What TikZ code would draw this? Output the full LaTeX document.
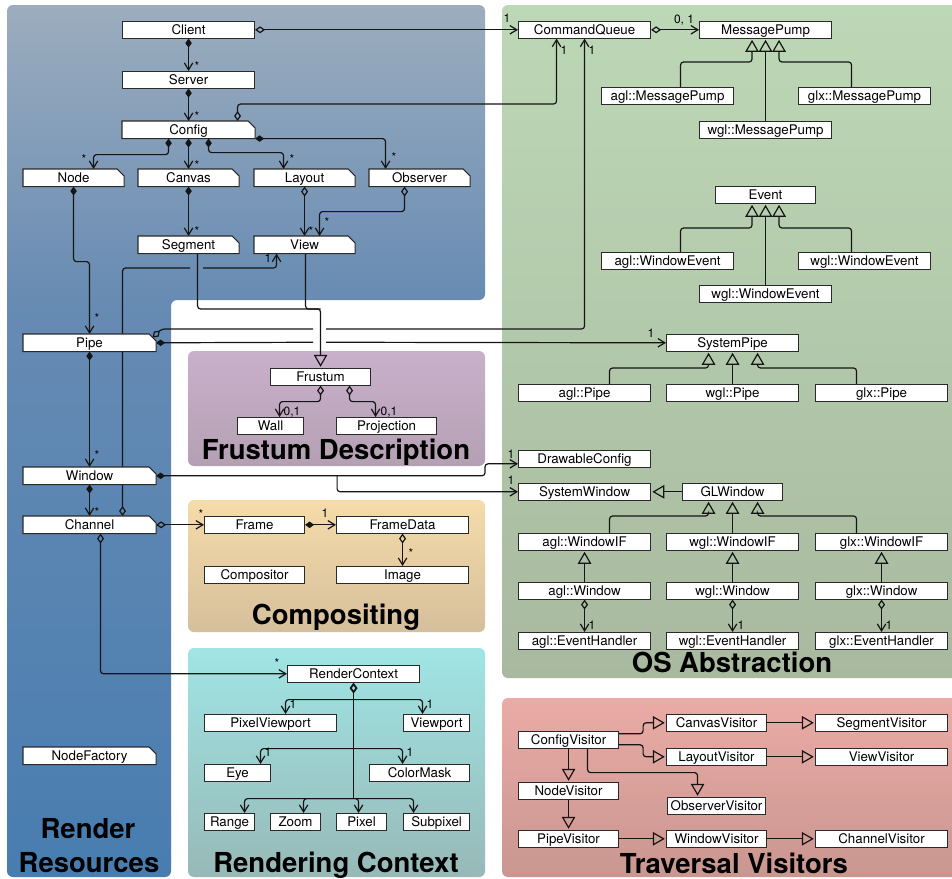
\documentclass[tikz,border=0pt]{standalone}
\usepackage{fontspec}
\setmainfont{TeX Gyre Heros}
\usetikzlibrary{arrows.meta,calc}
\pgfdeclarelayer{bg}
\pgfdeclarelayer{edges}
\pgfdeclarelayer{boxes}
\pgfsetlayers{bg,edges,boxes,main}

\definecolor{linec}{HTML}{151515}
\definecolor{boxc}{HTML}{2A2A2A}
\definecolor{rrtop}{HTML}{9CADBE}
\definecolor{rrmid}{HTML}{678BB3}
\definecolor{rrbot}{HTML}{487DB0}
\definecolor{ostop}{HTML}{BDD8B6}
\definecolor{osbot}{HTML}{A8B99F}
\definecolor{frtop}{HTML}{C9B0CB}
\definecolor{frbot}{HTML}{B4A0B3}
\definecolor{cotop}{HTML}{F6DCA9}
\definecolor{cobot}{HTML}{D5BF9C}
\definecolor{rctop}{HTML}{A0E5E5}
\definecolor{rcbot}{HTML}{97B9B7}
\definecolor{tvtop}{HTML}{EBABA6}
\definecolor{tvbot}{HTML}{C99690}

\pgfdeclareverticalshading{rrshade}{100bp}{color(0bp)=(rrbot); color(25bp)=(rrbot); color(58bp)=(rrmid); color(75bp)=(rrtop); color(100bp)=(rrtop)}

\newcommand\umlfont{\fontsize{13.3}{14}\selectfont}
\newcommand\labfont{\fontsize{12}{13}\selectfont}
\newcommand\ttlfont{\fontsize{27.5}{30}\selectfont\bfseries}
\newcommand\chambox[1]{\begin{pgfonlayer}{boxes}\filldraw[draw=boxc,fill=white,line width=1.1pt] (#1.north west) -- ([xshift=-7pt]#1.north east) -- ([yshift=-7pt]#1.north east) -- (#1.south east) -- (#1.south west) -- cycle;\end{pgfonlayer}}

\tikzset{
  umlbox/.style={draw=boxc, fill=white, line width=1.1pt, inner sep=0pt, minimum height=16.5pt, anchor=north west, font=\umlfont, text height=11pt, text depth=1.5pt},
  chbox/.style={umlbox, draw=none, fill=none},
  bw/.style={minimum width=#1pt},
  ln/.style={draw=linec, line width=1.2pt, rounded corners=3pt},
  cmp/.style={ln, {Diamond[length=9pt,width=6.5pt]}-{Straight Barb[length=7pt,width=8.5pt]}},
  agg/.style={ln, {Diamond[open,length=10pt,width=7pt]}-{Straight Barb[length=7pt,width=8.5pt]}},
  aggs/.style={ln, {Diamond[open,length=10pt,width=7pt]}-},
  cmps/.style={ln, {Diamond[length=9pt,width=6.5pt]}-},
  aro/.style={ln, -{Straight Barb[length=7pt,width=8.5pt]}},
  gen/.style={ln, -{Triangle[open,length=12pt,width=13.5pt]}, shorten >=1.2pt},
  lab/.style={font=\labfont, inner sep=0pt, anchor=base, text=black},
  ttl/.style={font=\ttlfont, inner sep=0pt, anchor=base, text=black},
}

\begin{document}
\begin{tikzpicture}[x=1pt,y=-1pt]
\useasboundingbox (0,0) rectangle (952,878);

% ---------- panels ----------
\begin{pgfonlayer}{bg}
\fill[white] (0,0) rectangle (952,878);
\shade[shading=rrshade, rounded corners=6pt] (7,5) -- (485,5) -- (485,300) -- (171,300) -- (171,877) -- (7,877) -- cycle;
\shade[top color=ostop, bottom color=osbot, rounded corners=6pt] (502,5) rectangle (960,678);
\shade[top color=tvtop, bottom color=tvbot, rounded corners=6pt] (502,698) rectangle (960,877);
\shade[top color=frtop, bottom color=frbot, rounded corners=6pt] (188,351) rectangle (485,466);
\shade[top color=cotop, bottom color=cobot, rounded corners=6pt] (188,500) rectangle (485,632);
\shade[top color=rctop, bottom color=rcbot, rounded corners=6pt] (188,648) rectangle (485,877);
\end{pgfonlayer}

% ---------- render resources ----------
\node[umlbox,bw=132] (client) at (122,21) {Client};
\node[umlbox,bw=132] (server) at (122,71) {Server};
\node[chbox,bw=132] (config) at (122,121) {Config}; \chambox{config}
\node[chbox,bw=100] (node) at (23,169) {Node}; \chambox{node}
\node[chbox,bw=100] (canvas) at (138,169) {Canvas}; \chambox{canvas}
\node[chbox,bw=100] (layout) at (254,169) {Layout}; \chambox{layout}
\node[chbox,bw=100] (observer) at (369,169) {Observer}; \chambox{observer}
\node[chbox,bw=100] (segment) at (138,236) {Segment}; \chambox{segment}
\node[chbox,bw=100] (view) at (254,236) {View}; \chambox{view}
\node[chbox,bw=132] (pipe) at (23,334) {Pipe}; \chambox{pipe}
\node[chbox,bw=132] (window) at (23,467) {Window}; \chambox{window}
\node[chbox,bw=132] (channel) at (23,516) {Channel}; \chambox{channel}
\node[chbox,bw=132] (nodefactory) at (23,747) {NodeFactory}; \chambox{nodefactory}

% ---------- frustum ----------
\node[umlbox,bw=100] (frustum) at (270,368) {Frustum};
\node[umlbox,bw=66] (wall) at (237,417) {Wall};
\node[umlbox,bw=100] (projection) at (336,417) {Projection};

% ---------- compositing ----------
\node[umlbox,bw=100] (frame) at (204,516) {Frame};
\node[umlbox,bw=132] (framedata) at (336,516) {FrameData};
\node[umlbox,bw=100] (compositor) at (204,566) {Compositor};
\node[umlbox,bw=132] (image) at (336,566) {Image};

% ---------- rendering context ----------
\node[umlbox,bw=132] (rc) at (287,665) {RenderContext};
\node[umlbox,bw=132] (pixvp) at (204,714) {PixelViewport};
\node[umlbox,bw=66] (vp) at (403,714) {Viewport};
\node[umlbox,bw=66] (eye) at (204,764) {Eye};
\node[umlbox,bw=100] (colormask) at (369,764) {ColorMask};
\node[umlbox,bw=50] (range) at (204,813) {Range};
\node[umlbox,bw=50] (zoom) at (270,813) {Zoom};
\node[umlbox,bw=50] (pixel) at (336,813) {Pixel};
\node[umlbox,bw=66] (subpixel) at (403,813) {Subpixel};

% ---------- OS abstraction ----------
\node[umlbox,bw=132] (cq) at (518,21) {CommandQueue};
\node[umlbox,bw=132] (mp) at (699,21) {MessagePump};
\node[umlbox,bw=132] (aglmp) at (601,87) {agl::MessagePump};
\node[umlbox,bw=132] (wglmp) at (699,121) {wgl::MessagePump};
\node[umlbox,bw=132] (glxmp) at (798,87) {glx::MessagePump};
\node[umlbox,bw=100] (event) at (715,186) {Event};
\node[umlbox,bw=132] (aglwe) at (601,252) {agl::WindowEvent};
\node[umlbox,bw=132] (wglwe2) at (699,285) {wgl::WindowEvent};
\node[umlbox,bw=132] (wglwe) at (798,252) {wgl::WindowEvent};
\node[umlbox,bw=132] (syspipe) at (666,334) {SystemPipe};
\node[umlbox,bw=132] (aglpipe) at (518,384) {agl::Pipe};
\node[umlbox,bw=132] (wglpipe) at (666,384) {wgl::Pipe};
\node[umlbox,bw=132] (glxpipe) at (815,384) {glx::Pipe};
\node[umlbox,bw=132] (dcfg) at (518,450) {DrawableConfig};
\node[umlbox,bw=132] (syswin) at (518,483) {SystemWindow};
\node[umlbox,bw=100] (glwin) at (682,483) {GLWindow};
\node[umlbox,bw=132] (aglwif) at (518,533) {agl::WindowIF};
\node[umlbox,bw=132] (wglwif) at (666,533) {wgl::WindowIF};
\node[umlbox,bw=132] (glxwif) at (815,533) {glx::WindowIF};
\node[umlbox,bw=132] (aglwin) at (518,582) {agl::Window};
\node[umlbox,bw=132] (wglwin) at (666,582) {wgl::Window};
\node[umlbox,bw=132] (glxwin) at (815,582) {glx::Window};
\node[umlbox,bw=132] (agleh) at (518,632) {agl::EventHandler};
\node[umlbox,bw=132] (wgleh) at (666,632) {wgl::EventHandler};
\node[umlbox,bw=132] (glxeh) at (815,632) {glx::EventHandler};

% ---------- traversal visitors ----------
\node[umlbox,bw=100] (cfgv) at (518,731) {ConfigVisitor};
\node[umlbox,bw=100] (canv) at (666,714) {CanvasVisitor};
\node[umlbox,bw=132] (segv) at (815,714) {SegmentVisitor};
\node[umlbox,bw=100] (layv) at (666,748) {LayoutVisitor};
\node[umlbox,bw=132] (viewv) at (815,748) {ViewVisitor};
\node[umlbox,bw=100] (nodev) at (518,782) {NodeVisitor};
\node[umlbox,bw=98] (obsv) at (667,797) {ObserverVisitor};
\node[umlbox,bw=100] (pipev) at (518,830) {PipeVisitor};
\node[umlbox,bw=100] (winv) at (666,830) {WindowVisitor};
\node[umlbox,bw=132] (chanv) at (815,830) {ChannelVisitor};

% ---------- titles ----------
\node[ttl] (trr1) at (88,838) {Render};
\node[ttl] (trr2) at (89,872) {Resources};
\node[ttl] (tfd) at (336,459) {Frustum Description};
\node[ttl] (tco) at (336,624) {Compositing};
\node[ttl] (trc) at (336,872) {Rendering Context};
\node[ttl] (tos) at (732,672) {OS Abstraction};
\node[ttl] (ttv) at (734,873) {Traversal Visitors};

% ---------- connectors ----------
\begin{pgfonlayer}{edges}
\draw[cmp] (client.south) -- (server.north);
\draw[cmp] (server.south) -- (config.north);
\draw[cmp] ([xshift=-20pt]config.south) -- ++(0,16) -| ([xshift=20pt]node.north);
\draw[cmp] (config.south) -- (canvas.north);
\draw[cmp] ([xshift=20pt]config.south) -- ++(0,14) -| ([xshift=-21pt]layout.north);
\draw[cmp] (config.south east) -| ([xshift=-34pt]observer.north);
\draw[cmp] (node.south) -- ++(0,75) -| (pipe.north);
\draw[cmp] (canvas.south) -- (segment.north);
\draw[agg] (layout.south) -- (view.north);
\draw[agg] ([xshift=-15pt]observer.south) -- ++(0,25) -| ([xshift=15pt]view.north);

\coordinate (hA1) at (190,268);
\coordinate (hA2) at (203,268);
\draw[aggs] ([xshift=33pt]channel.north) |- (hA1);
\draw[aro] (hA2) -| ([xshift=-28pt]view.south);

\draw[ln] ([xshift=9pt]segment.south) |- ([yshift=59pt]frustum.north);
\draw[gen] ([xshift=1pt]view.south) |- ([yshift=59pt]frustum.north) -- (frustum.north);

\draw[agg] (frustum.south) -- ++(0,16) -| ([xshift=9pt]wall.north);
\draw[agg] ([xshift=29pt]frustum.south) -- ++(0,16) -| ([xshift=-11pt]projection.north);

\draw[agg] ([xshift=49pt]config.north) -- ++(0,-17) -| ([xshift=-28pt]cq.south);

\coordinate (pc) at ([xshift=-3.5pt,yshift=-3.5pt]pipe.north east);
\coordinate (hB1) at (313,329);
\coordinate (hB2) at (326,329);
\draw[aggs] (pc) -- ++(9,-8.5) -- (hB1);
\draw[aro] (hB2) -| (cq.south);

\coordinate (hC1) at (313,342.25);
\coordinate (hC2) at (326,342.25);
\draw[cmps] (pipe.east) -- (hC1);
\draw[aro] (hC2) -- (syspipe.west);

\draw[cmp] (pipe.south) -- (window.north);
\draw[cmp] (window.south) -- (channel.north);
\draw[cmp] (window.east) -| ([xshift=-33pt,yshift=-5pt]dcfg.west) -- ([yshift=-5pt]dcfg.west);
\draw[aro] ([xshift=181pt]window.east) |- (syswin.west);

\draw[agg] (channel.east) -- (frame.west);
\draw[cmp] (frame.east) -- (framedata.west);
\draw[agg] (framedata.south) -- (image.north);
\draw[agg] ([xshift=11pt]channel.south) |- (rc.west);

\draw[ln, line width=1.8pt, {Diamond[open,length=11pt,width=8pt]}-] (rc.south) -- ++(0,116);
\coordinate (t1) at ([yshift=-17pt]rc.south);
\coordinate (t2) at ([yshift=-66pt]rc.south);
\coordinate (t3) at ([yshift=-116pt]rc.south);
\draw[aro] (t1) -| ([xshift=15pt]pixvp.north);
\draw[aro] (t1) -| ([xshift=-14pt]vp.north);
\draw[aro] (t2) -| ([xshift=23pt]eye.north);
\draw[aro] (t2) -| ([xshift=-17pt]colormask.north);
\draw[aro] (t3) -| ([xshift=15pt]range.north);
\draw[aro] (t3) -| ([xshift=8pt]zoom.north);
\draw[aro] (t3) -| ([xshift=-3pt]pixel.north);
\draw[aro] (t3) -| ([xshift=-23pt]subpixel.north);

% OS
\draw[agg] (client.east) -- (cq.west);
\draw[agg] (cq.east) -- (mp.west);
\draw[gen] ([xshift=13pt]aglmp.north) -- ++(0,-25) -| ([xshift=-13.5pt]mp.south);
\draw[gen] (wglmp.north) -- (mp.south);
\draw[gen] ([xshift=-13pt]glxmp.north) -- ++(0,-25) -| ([xshift=13.5pt]mp.south);
\draw[gen] ([xshift=13pt]aglwe.north) -- ++(0,-24) -| ([xshift=-13.5pt]event.south);
\draw[gen] (wglwe2.north) -- (event.south);
\draw[gen] ([xshift=-13pt]wglwe.north) -- ++(0,-24) -| ([xshift=13.5pt]event.south);
\draw[gen] ([xshift=25pt]aglpipe.north) -- ++(0,-16) -| ([xshift=-24pt]syspipe.south);
\draw[gen] (wglpipe.north) -- (syspipe.south);
\draw[gen] ([xshift=-25pt]glxpipe.north) -- ++(0,-16) -| ([xshift=25pt]syspipe.south);
\draw[gen] (glwin.west) -- (syswin.east);
\draw[gen] ([xshift=25pt]aglwif.north) -- ++(0,-17) -| ([xshift=-24pt]glwin.south);
\draw[gen] (wglwif.north) -- (glwin.south);
\draw[gen] ([xshift=-25pt]glxwif.north) -- ++(0,-17) -| ([xshift=25pt]glwin.south);
\draw[gen] (aglwin.north) -- (aglwif.south);
\draw[gen] (wglwin.north) -- (wglwif.south);
\draw[gen] (glxwin.north) -- (glxwif.south);
\draw[agg] (aglwin.south) -- (agleh.north);
\draw[agg] (wglwin.south) -- (wgleh.north);
\draw[agg] (glxwin.south) -- (glxeh.north);

% visitors
\draw[gen] ([yshift=6pt]cfgv.east) -- ++(24,0) |- (canv.west);
\draw[gen] ([yshift=-5pt]cfgv.east) -- ++(24,0) |- (layv.west);
\draw[gen] (canv.east) -- (segv.west);
\draw[gen] (layv.east) -- (viewv.west);
\draw[gen] (cfgv.south) -- (nodev.north);
\draw[gen] ([xshift=19pt]cfgv.south) -- ++(0,24) -| ([xshift=-19pt]obsv.north);
\draw[gen] (nodev.south) -- (pipev.north);
\draw[gen] (pipev.east) -- (winv.west);
\draw[gen] (winv.east) -- (chanv.west);
\end{pgfonlayer}

% ---------- labels ----------
\node[lab] (l1) at (197,70) {*};
\node[lab] (l2) at (197,120) {*};
\node[lab] (l3) at (84,163) {*};
\node[lab] (l4) at (197,169) {*};
\node[lab] (l5) at (292,163) {*};
\node[lab] (l6) at (394,161) {*};
\node[lab] (l7) at (197,235) {*};
\node[lab] (l8) at (311,235) {*};
\node[lab] (l9) at (327,226) {*};
\node[lab] (l10) at (268,262) {1};
\node[lab] (l11) at (97,322) {*};
\node[lab] (l12) at (97,459) {*};
\node[lab] (l13) at (97,516) {*};
\node[lab] (l14) at (201,518) {*};
\node[lab] (l15) at (325,517) {1};
\node[lab] (l16) at (411,557) {*};
\node[lab] (l17) at (292,415) {0,1};
\node[lab] (l18) at (389,415) {0,1};
\node[lab] (l19) at (277,667) {*};
\node[lab] (l20) at (293,708) {1};
\node[lab] (l21) at (430,708) {1};
\node[lab] (l22) at (268,756) {1};
\node[lab] (l23) at (410,756) {1};
\node[lab] (l24) at (507,22) {1};
\node[lab] (l25) at (684,23) {0, 1};
\node[lab] (l26) at (564,54) {1};
\node[lab] (l27) at (592,54) {1};
\node[lab] (l28) at (651,337) {1};
\node[lab] (l29) at (511,458) {1};
\node[lab] (l30) at (511,484) {1};
\node[lab] (l31) at (592,629) {1};
\node[lab] (l32) at (741,629) {1};
\node[lab] (l33) at (889,629) {1};
\end{tikzpicture}
\end{document}
